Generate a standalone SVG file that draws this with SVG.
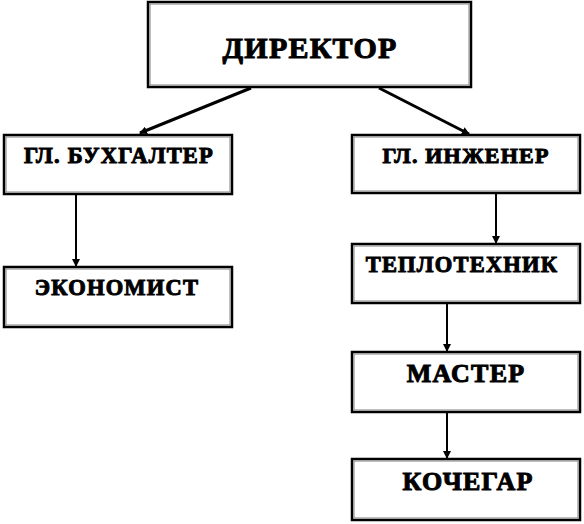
<svg xmlns="http://www.w3.org/2000/svg" width="584" height="524" viewBox="0 0 584 524">
<style>
.box{fill:#fff;stroke:#000;stroke-width:2.5}
.inner{fill:none;stroke:#808080;stroke-width:1}
.t{font-family:"Liberation Serif","Times New Roman",serif;font-weight:bold;fill:#000;stroke:#000;stroke-width:1;text-anchor:middle;letter-spacing:1.2px}
.c{stroke:#000;stroke-width:2;fill:none}
.c2{stroke:#000;stroke-width:3;fill:none}
</style>
<defs>
<marker id="ah" markerWidth="8" markerHeight="8" refX="7" refY="4" orient="auto" markerUnits="userSpaceOnUse">
<path d="M0,0 L8,4 L0,8 Z" fill="#000"/>
</marker>
</defs>
<rect width="584" height="524" fill="#fff"/>
<g id="director">
<rect class="box" x="148" y="2" width="323" height="85"/>
<rect class="inner" x="150" y="4" width="319" height="81"/>
<text class="t" x="310" y="58" font-size="30">ДИРЕКТОР</text>
</g>
<g id="buh">
<rect class="box" x="4" y="135" width="228" height="59"/>
<rect class="inner" x="6" y="137" width="224" height="55"/>
<text class="t" x="119" y="163" font-size="22.5">ГЛ. БУХГАЛТЕР</text>
</g>
<g id="econ">
<rect class="box" x="4" y="267" width="228" height="60"/>
<rect class="inner" x="6" y="269" width="224" height="56"/>
<text class="t" x="117" y="295" font-size="22.5">ЭКОНОМИСТ</text>
</g>
<g id="eng">
<rect class="box" x="352" y="135" width="228" height="58"/>
<rect class="inner" x="354" y="137" width="224" height="54"/>
<text class="t" x="466" y="163" font-size="22">ГЛ. ИНЖЕНЕР</text>
</g>
<g id="teplo">
<rect class="box" x="352" y="244" width="228" height="59"/>
<rect class="inner" x="354" y="246" width="224" height="55"/>
<text class="t" x="462" y="272" font-size="22.5">ТЕПЛОТЕХНИК</text>
</g>
<g id="master">
<rect class="box" x="352" y="352" width="228" height="60"/>
<rect class="inner" x="354" y="354" width="224" height="56"/>
<text class="t" x="466" y="382" font-size="26">МАСТЕР</text>
</g>
<g id="kochegar">
<rect class="box" x="352" y="459" width="228" height="61"/>
<rect class="inner" x="354" y="461" width="224" height="57"/>
<text class="t" x="468" y="490" font-size="26">КОЧЕГАР</text>
</g>
<g id="connectors">
<line class="c2" x1="251" y1="88" x2="140" y2="133" marker-end="url(#ah)"/>
<line class="c2" x1="379" y1="88" x2="469" y2="134" marker-end="url(#ah)"/>
<line class="c" x1="76" y1="195" x2="76" y2="266" marker-end="url(#ah)"/>
<line class="c" x1="496" y1="194" x2="496" y2="243" marker-end="url(#ah)"/>
<line class="c" x1="447" y1="304" x2="447" y2="351" marker-end="url(#ah)"/>
<line class="c" x1="447" y1="413" x2="447" y2="458" marker-end="url(#ah)"/>
</g>
</svg>
